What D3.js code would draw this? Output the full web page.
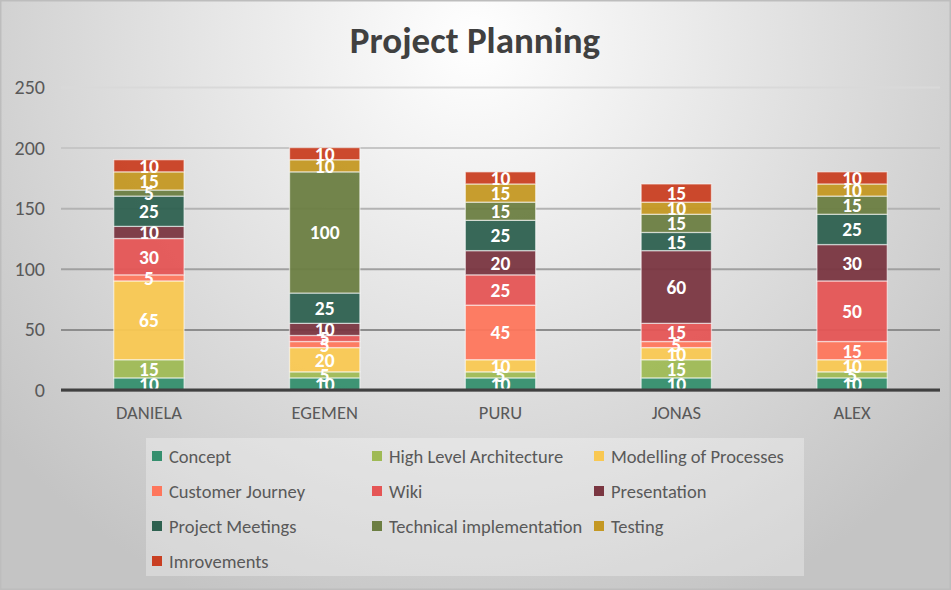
<!DOCTYPE html>
<html><head><meta charset="utf-8">
<script src="https://cdn.jsdelivr.net/npm/d3@7/dist/d3.min.js"></script>
<style>
html,body{margin:0;padding:0;background:#fff;}
svg{display:block;}
</style></head>
<body>
<svg id="c" width="951" height="590"></svg>
<script>
const people = ["DANIELA","EGEMEN","PURU","JONAS","ALEX"];
const seriesNames = ["Concept","High Level Architecture","Modelling of Processes","Customer Journey","Wiki","Presentation","Project Meetings","Technical implementation","Testing","Imrovements"];
const concept      = [10,10,10,10,10];
const highLevel    = [15,5,5,15,5];
const modelling    = [65,20,10,10,10];
const customerJ    = [5,5,45,5,15];
const wiki         = [30,5,25,15,50];
const presentation = [10,10,20,60,30];
const meetings     = [25,25,25,15,25];
const techImpl     = [5,100,15,15,15];
const testing      = [15,10,15,10,10];
const improvements = [10,10,10,15,10];
const yTicks = [0,50,100,150,200,250];
const colors = ["#358F6E","#9FBA55","#F9C852","#FE765C","#E55555","#7A3641","#2E6150","#6C7E42","#C49823","#C93F22"];

const seriesValues = [concept,highLevel,modelling,customerJ,wiki,presentation,meetings,techImpl,testing,improvements];
const table = people.map((p,i)=>{const o={person:p}; seriesNames.forEach((s,j)=>o[s]=seriesValues[j][i]); return o;});

(function(){
const W=951,H=590;
const svg=d3.select("#c");
const font="Carlito, Calibri, 'Liberation Sans Narrow', 'Open Sans', sans-serif";
const defs=svg.append("defs");
const rg=defs.append("radialGradient").attr("id","bg").attr("gradientUnits","userSpaceOnUse")
  .attr("cx",475).attr("cy",40).attr("r",620);
rg.append("stop").attr("offset","0%").attr("stop-color","#ffffff");
rg.append("stop").attr("offset","100%").attr("stop-color","#c4c4c4");
svg.append("rect").attr("width",W).attr("height",H).attr("fill","url(#bg)");
svg.append("rect").attr("x",0.5).attr("y",0.5).attr("width",W-1).attr("height",H-1).attr("fill","none").attr("stroke","#bdbdbd").attr("stroke-width",2);

svg.append("text").attr("x",475).attr("y",53).attr("text-anchor","middle")
  .attr("font-family",font).attr("font-weight","bold").attr("font-size",37).attr("fill","#404040").text("Project Planning");

const pl=61,pr=940,pt=87,pb=390;
const x=d3.scaleBand().domain(people).range([pl,pr]).paddingInner(0.6).paddingOuter(0.3);
const y=d3.scaleLinear().domain([0,250]).range([pb,pt]);

const gridCol=d3.scaleLinear().domain([250,0]).range(["#d9d9d9","#7a7a7a"]);
const gy=svg.append("g").attr("transform",`translate(${pl},0)`)
  .call(d3.axisLeft(y).tickValues(yTicks).tickSize(-(pr-pl)).tickPadding(16));
gy.select(".domain").remove();
gy.selectAll(".tick line").attr("stroke",d=>gridCol(d)).attr("stroke-width",2);
gy.selectAll(".tick text").attr("font-family",font).attr("font-size",20).attr("fill","#595959");

const stack=d3.stack().keys(seriesNames)(table);
const g=svg.append("g");
stack.forEach((layer,li)=>{
  g.append("g").selectAll("rect").data(layer).join("rect")
    .attr("x",d=>x(d.data.person)).attr("width",x.bandwidth())
    .attr("y",d=>y(d[1])).attr("height",d=>y(d[0])-y(d[1]))
    .attr("fill",colors[li]).attr("fill-opacity",0.95)
    .attr("stroke","rgba(255,255,255,0.55)").attr("stroke-width",1.3);
});
const gx=svg.append("g").attr("transform",`translate(0,${pb})`)
  .call(d3.axisBottom(x).tickSize(0).tickPadding(16));
gx.select(".domain").attr("stroke","#404040").attr("stroke-width",3).attr("d",`M${pl},0H${pr}`);
gx.selectAll(".tick text").attr("font-family",font).attr("font-size",18.5).attr("fill","#595959");

stack.forEach((layer,li)=>{
  g.append("g").selectAll("text").data(layer).join("text")
    .attr("x",d=>x(d.data.person)+x.bandwidth()/2)
    .attr("y",d=>(y(d[0])+y(d[1]))/2+7)
    .attr("text-anchor","middle").attr("font-family",font).attr("font-weight","bold")
    .attr("font-size",19.5).attr("fill","#ffffff").text(d=>d[1]-d[0]);
});

svg.append("rect").attr("x",146).attr("y",438).attr("width",658).attr("height",138).attr("fill","rgba(255,255,255,0.3)");
const rowY=[456,491,526,561];
const lx=[152,372,594];
seriesNames.forEach((s,i)=>{
  const cx=lx[i%3], cy=rowY[Math.floor(i/3)];
  svg.append("rect").attr("x",cx).attr("y",cy-5).attr("width",10).attr("height",10).attr("fill",colors[i]);
  svg.append("text").attr("x",cx+17).attr("y",cy+6.5).attr("font-family",font).attr("font-size",18.5).attr("fill","#595959").text(s);
});
})();
</script>
</body></html>
